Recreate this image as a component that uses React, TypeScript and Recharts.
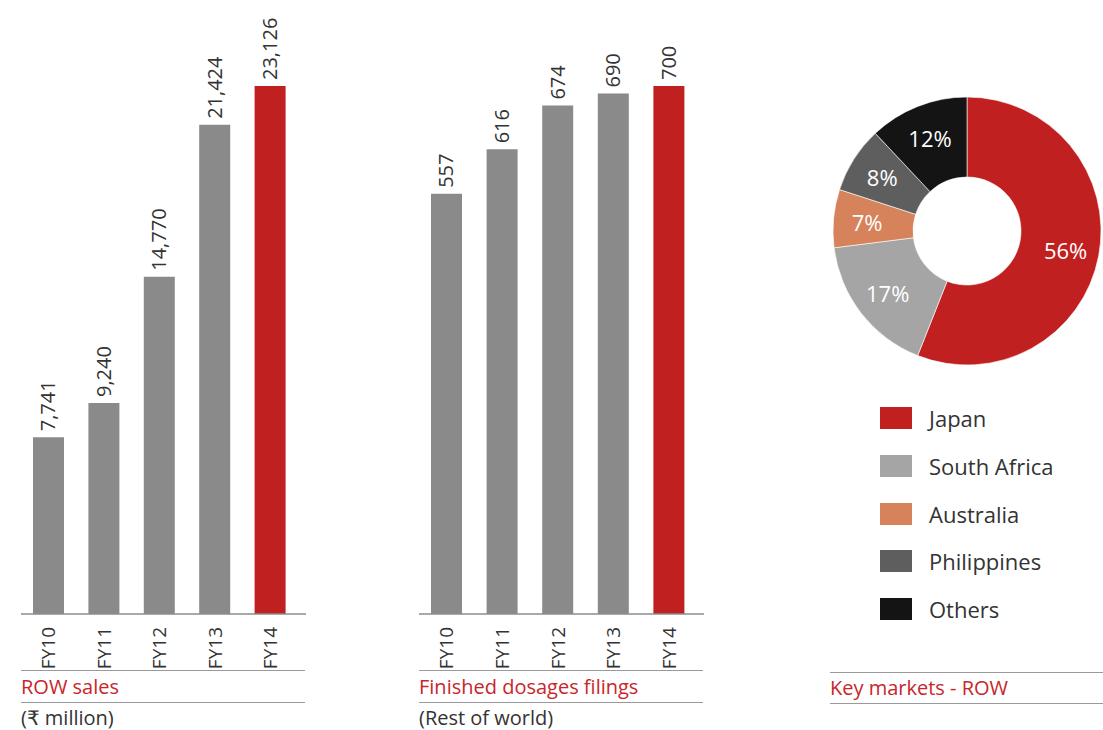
import React from 'react';
import { BarChart, Bar, XAxis, YAxis, Cell, LabelList, PieChart, Pie } from 'recharts';

const years = ['FY10', 'FY11', 'FY12', 'FY13', 'FY14'];
const rowSales = [7741, 9240, 14770, 21424, 23126];
const dosageFilings = [557, 616, 674, 690, 700];

const marketNames = ['Japan', 'South Africa', 'Australia', 'Philippines', 'Others'];
const marketShares = [56, 17, 7, 8, 12];
const marketColors = ['#c0201f', '#a5a5a5', '#d6825b', '#5e5e5e', '#141414'];

const RED = '#c0201f';
const GREY = '#8a8a8a';
const TEXT = '#333333';
const FONT = '"Open Sans", "DejaVu Sans", sans-serif';

const salesData = years.map((y, i) => ({ year: y, value: rowSales[i] }));
const filingsData = years.map((y, i) => ({ year: y, value: dosageFilings[i] }));
const marketData = marketNames.map((n, i) => ({ name: n, value: marketShares[i], color: marketColors[i] }));

const YearTick = (props: any) => {
  const { x, y, payload } = props;
  const ty = y + 5;
  return (
    <text x={x} y={ty} transform={`rotate(-90, ${x}, ${ty})`} textAnchor="end" dy="0.35em"
      fontSize={19} fill={TEXT} fontFamily={FONT}>
      {payload.value}
    </text>
  );
};

const ValueLabel = (props: any) => {
  const { x, y, width, value } = props;
  const cx = x + width / 2;
  const ty = y - 6;
  return (
    <text x={cx} y={ty} transform={`rotate(-90, ${cx}, ${ty})`} textAnchor="start" dy="0.35em"
      fontSize={20} fill={TEXT} fontFamily={FONT}>
      {Number(value).toLocaleString('en-US')}
    </text>
  );
};

const PieLabel = (props: any) => {
  const { cx, cy, midAngle, innerRadius, outerRadius, value } = props;
  const r = innerRadius + (outerRadius - innerRadius) * 0.58;
  const rad = (Math.PI / 180) * midAngle;
  const x = cx + r * Math.cos(rad);
  const y = cy - r * Math.sin(rad);
  return (
    <text x={x} y={y} textAnchor="middle" dominantBaseline="central" fontSize={22}
      fill="#ffffff" fontFamily={FONT}>
      {value}%
    </text>
  );
};

const YearBars: React.FC<{ data: { year: string; value: number }[]; padRight: number }> = ({ data, padRight }) => (
  <BarChart width={300} height={730} data={data} margin={{ top: 86, right: 15, bottom: 0, left: 0 }}>
    <XAxis dataKey="year" interval={0} tickLine={false} height={116} tick={<YearTick />}
      axisLine={{ stroke: '#8c8c8c', strokeWidth: 1.5 }} padding={{ left: 0, right: padRight }} />
    <YAxis hide width={0} domain={[0, Math.max(...data.map(d => d.value))]} />
    <Bar dataKey="value" barSize={31} isAnimationActive={false}>
      {data.map(d => (
        <Cell key={d.year} fill={d.year === 'FY14' ? RED : GREY} />
      ))}
      <LabelList dataKey="value" content={<ValueLabel />} />
    </Bar>
  </BarChart>
);

const Rule: React.FC<{ left: number; top: number; width: number }> = ({ left, top, width }) => (
  <div style={{ position: 'absolute', left, top, width, height: 0, borderTop: '1.5px solid #9a9a9a' }} />
);

const Caption: React.FC<{ left: number; top: number; color: string; children: React.ReactNode }> = ({ left, top, color, children }) => (
  <div style={{ position: 'absolute', left, top, fontSize: 20, lineHeight: '24px', color, fontFamily: FONT, whiteSpace: 'nowrap' }}>
    {children}
  </div>
);

export default function App() {
  return (
    <div style={{ position: 'absolute', left: 0, top: 0, width: 1103, height: 730, background: '#fff', fontFamily: FONT, overflow: 'hidden' }}>
      <div style={{ position: 'absolute', left: 21, top: 0 }}>
        <YearBars data={salesData} padRight={8} />
      </div>
      <div style={{ position: 'absolute', left: 419, top: 0 }}>
        <YearBars data={filingsData} padRight={7} />
      </div>

      <Rule left={21} top={670} width={284} />
      <Caption left={21} top={675} color="#c8262a">ROW sales</Caption>
      <Rule left={21} top={702} width={284} />
      <Caption left={21} top={706} color={TEXT}>(₹ million)</Caption>

      <Rule left={419} top={670} width={284} />
      <Caption left={419} top={675} color="#c8262a">Finished dosages filings</Caption>
      <Rule left={419} top={702} width={284} />
      <Caption left={419} top={706} color={TEXT}>(Rest of world)</Caption>

      <div style={{ position: 'absolute', left: 830, top: 90 }}>
        <PieChart width={273} height={282} margin={{ top: 0, right: 0, bottom: 0, left: 0 }}>
          <Pie data={marketData} dataKey="value" nameKey="name" cx={137} cy={141}
            innerRadius={54} outerRadius={134} startAngle={90} endAngle={-270}
            stroke="#ffffff" strokeWidth={0.6} labelLine={false} label={PieLabel}
            isAnimationActive={false}>
            {marketData.map(d => (
              <Cell key={d.name} fill={d.color} />
            ))}
          </Pie>
        </PieChart>
      </div>

      {marketData.map((d, i) => (
        <div key={d.name} style={{ position: 'absolute', left: 880, top: 407 + i * 47.8, height: 22, display: 'flex', alignItems: 'center' }}>
          <div style={{ width: 32, height: 22, background: d.color }} />
          <span style={{ marginLeft: 17, fontSize: 22, color: TEXT, fontFamily: FONT, whiteSpace: 'nowrap' }}>{d.name}</span>
        </div>
      ))}

      <Rule left={830} top={672} width={273} />
      <Caption left={830} top={676} color="#c8262a">Key markets - ROW</Caption>
      <Rule left={830} top={703} width={273} />
    </div>
  );
}
